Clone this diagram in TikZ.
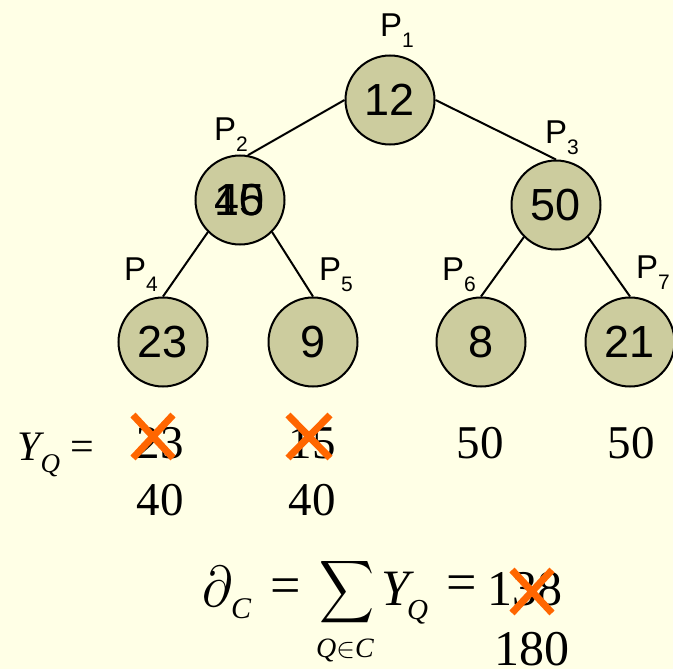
\RequirePackage{fix-cm}
\documentclass[tikz,border=0pt]{standalone}
\usepackage{fontspec}
\usepackage{graphicx}
\setmainfont{Liberation Serif}
\setsansfont{Liberation Sans}
\definecolor{bgyellow}{RGB}{255,255,230}
\definecolor{procfill}{RGB}{204,204,158}
\definecolor{crossorange}{RGB}{255,102,0}
\newcommand{\pname}[1]{P\raisebox{-11pt}{\fontsize{21}{21}\selectfont #1}}

\begin{document}
\begin{tikzpicture}[x=1pt, y=-1pt,
    proc/.style={circle, draw, line width=2pt, fill=procfill, minimum size=89pt,
      inner sep=0pt, font=\sffamily\fontsize{45}{45}\selectfont},
    plabel/.style={anchor=base west, inner sep=0pt, font=\sffamily\fontsize{33}{33}\selectfont},
    val/.style={anchor=base, inner sep=0pt, font=\fontsize{47}{47}\selectfont},
    cross/.style={crossorange, line width=7pt}]
  \fill[bgyellow] (0,0) rectangle (673,669);
  \useasboundingbox (0,0) rectangle (673,669);

  \node[proc] (p1) at (390,100) {12};
  \node[proc] (p2) at (240,200) {\makebox[0pt]{15}\makebox[0pt]{40}};
  \node[proc] (p3) at (556,205) {50};
  \node[proc] (p4) at (163,342) {23};
  \node[proc] (p5) at (313,342) {9};
  \node[proc] (p6) at (481,342) {8};
  \node[proc] (p7) at (630,342) {21};

  \node[plabel] (l1) at (380,37) {\pname{1}};
  \node[plabel] (l2) at (214,140) {\pname{2}};
  \node[plabel] (l3) at (545,143) {\pname{3}};
  \node[plabel] (l4) at (124,280) {\pname{4}};
  \node[plabel] (l5) at (319,280) {\pname{5}};
  \node[plabel] (l6) at (442,280) {\pname{6}};
  \node[plabel] (l7) at (636,278) {\pname{7}};

  \draw[line width=2pt] (p1.west) -- (p2.80);
  \draw[line width=2pt] (p1.east) -- (p3.north);
  \draw[line width=2pt] (p2.south west) -- (p4.north);
  \draw[line width=2pt] (p2.south east) -- (p5.north);
  \draw[line width=2pt] (p3.south west) -- (p6.north);
  \draw[line width=2pt] (p3.south east) -- (p7.north);

  \node[anchor=base west, inner sep=0pt] (yq) at (17,460)
    {\fontsize{42}{42}\selectfont\itshape Y\raisebox{-12pt}{\fontsize{27}{27}\selectfont Q}\hspace{10pt}\upshape=};
  \node[val] (y4) at (160,458) {23};
  \node[val] (y5) at (312,458) {15};
  \node[val] (y6) at (480,458) {50};
  \node[val] (y7) at (631,458) {50};
  \node[val] (n4) at (160,515) {40};
  \node[val] (n5) at (312,515) {40};
  \draw[cross] (133,415) -- (173,458) (173,415) -- (133,458);
  \draw[cross] (288,415) -- (330,458) (330,415) -- (288,458);

  \node[anchor=south west, inner sep=0pt] (del) at (202,607) {\resizebox{30pt}{40pt}{$\partial$}};
  \node[anchor=base west, inner sep=0pt] (delc) at (231,618) {\fontsize{30}{30}\selectfont\itshape C};
  \node[inner sep=0pt, font=\fontsize{54}{54}\selectfont] (eq1) at (286,591) {=};
  \node[anchor=north west, inner sep=0pt] (sum) at (319,557) {\resizebox*{55pt}{70pt}{$\displaystyle\sum$}};
  \node[anchor=base, inner sep=0pt] (sumq) at (345,657) {\fontsize{28}{28}\selectfont\itshape Q$\in$C};
  \node[anchor=base west, inner sep=0pt] (sy) at (381,605) {\fontsize{51}{51}\selectfont\itshape Y};
  \node[anchor=base west, inner sep=0pt] (sq) at (407,619) {\fontsize{29}{29}\selectfont\itshape Q};
  \node[inner sep=0pt, font=\fontsize{54}{54}\selectfont] (eq2) at (462,588) {=};
  \node[val, font=\fontsize{50}{50}\selectfont] (old) at (525,605) {138};
  \node[val, font=\fontsize{50}{50}\selectfont] (new) at (532,665) {180};
  \draw[cross] (512,570) -- (552,613) (552,570) -- (512,613);
\end{tikzpicture}
\end{document}
